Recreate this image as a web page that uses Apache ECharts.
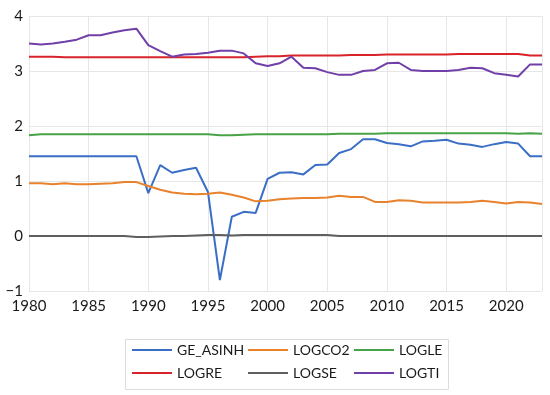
<!DOCTYPE html>
<html><head><meta charset="utf-8">
<script src="https://cdn.jsdelivr.net/npm/echarts@6/dist/echarts.min.js"></script>
<style>html,body{margin:0;padding:0;background:#fff}#c{width:550px;height:395px}</style>
</head><body><div id="c"></div>
<script>
const years = [];
for (let y = 1980; y <= 2023; y++) years.push(y);
const seriesNames = ["GE_ASINH", "LOGCO2", "LOGLE", "LOGRE", "LOGSE", "LOGTI"];
const seriesColors = ["#3a6fc6", "#e8822c", "#47a347", "#d9232a", "#5f5f5f", "#7040a8"];
const legendColumns = [["GE_ASINH", "LOGRE"], ["LOGCO2", "LOGSE"], ["LOGLE", "LOGTI"]];
const GE_ASINH = [1.45,1.45,1.45,1.45,1.45,1.45,1.45,1.45,1.45,1.45,0.78,1.29,1.15,1.20,1.24,0.80,-0.80,0.35,0.44,0.42,1.04,1.15,1.16,1.12,1.29,1.30,1.51,1.58,1.76,1.76,1.69,1.67,1.63,1.72,1.73,1.75,1.68,1.66,1.62,1.67,1.71,1.68,1.45,1.45];
const LOGCO2 = [0.96,0.96,0.94,0.96,0.94,0.94,0.95,0.96,0.98,0.98,0.91,0.84,0.79,0.77,0.76,0.77,0.79,0.75,0.70,0.63,0.64,0.67,0.68,0.69,0.69,0.70,0.73,0.71,0.71,0.62,0.62,0.65,0.64,0.61,0.61,0.61,0.61,0.62,0.64,0.62,0.59,0.62,0.61,0.58];
const LOGLE = [1.83,1.85,1.85,1.85,1.85,1.85,1.85,1.85,1.85,1.85,1.85,1.85,1.85,1.85,1.85,1.85,1.83,1.83,1.84,1.85,1.85,1.85,1.85,1.85,1.85,1.85,1.86,1.86,1.86,1.86,1.87,1.87,1.87,1.87,1.87,1.87,1.87,1.87,1.87,1.87,1.87,1.86,1.87,1.86];
const LOGRE = [3.26,3.26,3.26,3.25,3.25,3.25,3.25,3.25,3.25,3.25,3.25,3.25,3.25,3.25,3.25,3.25,3.25,3.25,3.25,3.26,3.27,3.27,3.28,3.28,3.28,3.28,3.28,3.29,3.29,3.29,3.30,3.30,3.30,3.30,3.30,3.30,3.31,3.31,3.31,3.31,3.31,3.31,3.28,3.28];
const LOGSE = [0.00,0.00,0.00,0.00,0.00,0.00,0.00,0.00,0.00,-0.02,-0.02,-0.01,0.00,0.00,0.01,0.02,0.02,0.01,0.02,0.02,0.02,0.02,0.02,0.02,0.02,0.02,0.00,0.00,0.00,0.00,0.00,0.00,0.00,0.00,0.00,0.00,0.00,0.00,0.00,0.00,0.00,0.00,0.00,0.00];
const LOGTI = [3.50,3.48,3.50,3.53,3.57,3.65,3.65,3.70,3.74,3.77,3.47,3.36,3.26,3.30,3.31,3.33,3.37,3.37,3.32,3.14,3.09,3.14,3.26,3.06,3.05,2.98,2.93,2.93,3.00,3.02,3.14,3.15,3.02,3.00,3.00,3.00,3.02,3.06,3.05,2.96,2.93,2.90,3.12,3.12];
const allData = [GE_ASINH, LOGCO2, LOGLE, LOGRE, LOGSE, LOGTI];

const FONT = "Lato";
const legendLefts = [132, 248, 354];
const chart = echarts.init(document.getElementById('c'), null, {renderer: 'canvas'});
chart.setOption({
  animation: false,
  backgroundColor: '#ffffff',
  textStyle: {fontFamily: FONT},
  grid: {left: 29, right: 8, top: 16, bottom: 104, containLabel: false},
  xAxis: {
    type: 'value', min: 1980, max: 2023, interval: 5,
    axisLine: {show: false}, axisTick: {show: false},
    splitLine: {show: true, lineStyle: {color: '#e6e6e6', width: 1}},
    axisLabel: {fontFamily: FONT, fontSize: 15, color: '#1a1a1a', margin: 8, showMaxLabel: false,
      formatter: v => String(v)}
  },
  yAxis: {
    type: 'value', min: -1, max: 4, interval: 1,
    axisLine: {show: false}, axisTick: {show: false},
    splitLine: {show: true, lineStyle: {color: '#e6e6e6', width: 1}},
    axisLabel: {fontFamily: FONT, fontSize: 15, color: '#1a1a1a', margin: 6,
      formatter: v => v < 0 ? '\u2212' + Math.abs(v) : String(v)}
  },
  legend: legendColumns.map((col, k) => ({
    orient: 'vertical', left: legendLefts[k], top: 343, padding: 0,
    itemWidth: 40, itemHeight: 14, itemGap: 9,
    icon: 'path://M0,6 L40,6 L40,8 L0,8 Z',
    textStyle: {fontFamily: FONT, fontSize: 14, color: '#1a1a1a'},
    data: col
  })),
  graphic: [{
    type: 'rect', left: 123, top: 337, silent: true,
    shape: {width: 323, height: 50},
    style: {fill: 'none', stroke: '#dcdcdc', lineWidth: 1}
  }],
  series: seriesNames.map((n, i) => ({
    name: n, type: 'line', showSymbol: false, symbol: 'none',
    lineStyle: {width: 2, color: seriesColors[i]},
    itemStyle: {color: seriesColors[i]},
    data: years.map((y, j) => [y, allData[i][j]])
  }))
});
</script></body></html>
